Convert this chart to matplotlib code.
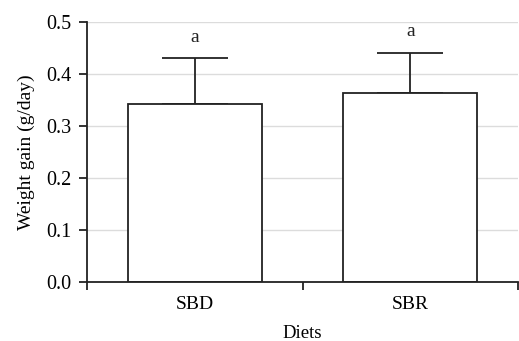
import matplotlib.pyplot as plt
import numpy as np

diets = ['SBD', 'SBR']
gain = [0.343, 0.364]
err_up = [0.087, 0.077]
letters = ['a', 'a']


def main():
    plt.rcParams['font.family'] = ['Liberation Serif', 'DejaVu Serif']
    fig = plt.figure(figsize=(5.19, 3.41), dpi=100)
    ax = fig.add_axes([87 / 519, 59 / 341, 431 / 519, 260 / 341])
    x = np.arange(len(diets))
    ec = '#222222'
    ax.bar(x, gain, width=0.62, color='white', edgecolor=ec, linewidth=1.3, zorder=3)
    ax.errorbar(x, gain, yerr=[np.zeros(len(gain)), err_up], fmt='none',
                ecolor=ec, elinewidth=1.3, capsize=24, capthick=1.3, zorder=2)
    for xi, v, e, s in zip(x, gain, err_up, letters):
        ax.text(xi, v + e + 0.04, s, ha='center', va='center', fontsize=14, color=ec)

    ax.set_xlim(-0.5, len(diets) - 0.5)
    ax.set_ylim(0, 0.5)
    ax.set_yticks(np.arange(0, 0.51, 0.1))
    ax.set_yticklabels(['%.1f' % t for t in np.arange(0, 0.51, 0.1)], fontsize=14.5)
    ax.set_xticks(np.arange(-0.5, len(diets), 1.0))
    ax.set_xticklabels([])
    ax.set_xticks(x, minor=True)
    ax.set_xticklabels(diets, minor=True, fontsize=14)
    ax.tick_params(axis='x', which='minor', length=0, pad=10)
    ax.tick_params(axis='both', which='major', length=6, width=1.3, color=ec, direction='out')
    ax.tick_params(axis='y', pad=5)
    ax.yaxis.grid(True, color='#dcdcdc', linewidth=1.0, zorder=0)
    ax.set_axisbelow(True)
    for side in ['top', 'right']:
        ax.spines[side].set_visible(False)
    for side in ['left', 'bottom']:
        ax.spines[side].set_color(ec)
        ax.spines[side].set_linewidth(1.3)
        ax.spines[side].set_zorder(4)
    ax.set_ylabel('Weight gain (g/day)', fontsize=14, labelpad=8)
    ax.set_xlabel('Diets', fontsize=13.5, labelpad=8.5)
    fig.savefig('out.png', dpi=100)


if __name__ == '__main__':
    main()
